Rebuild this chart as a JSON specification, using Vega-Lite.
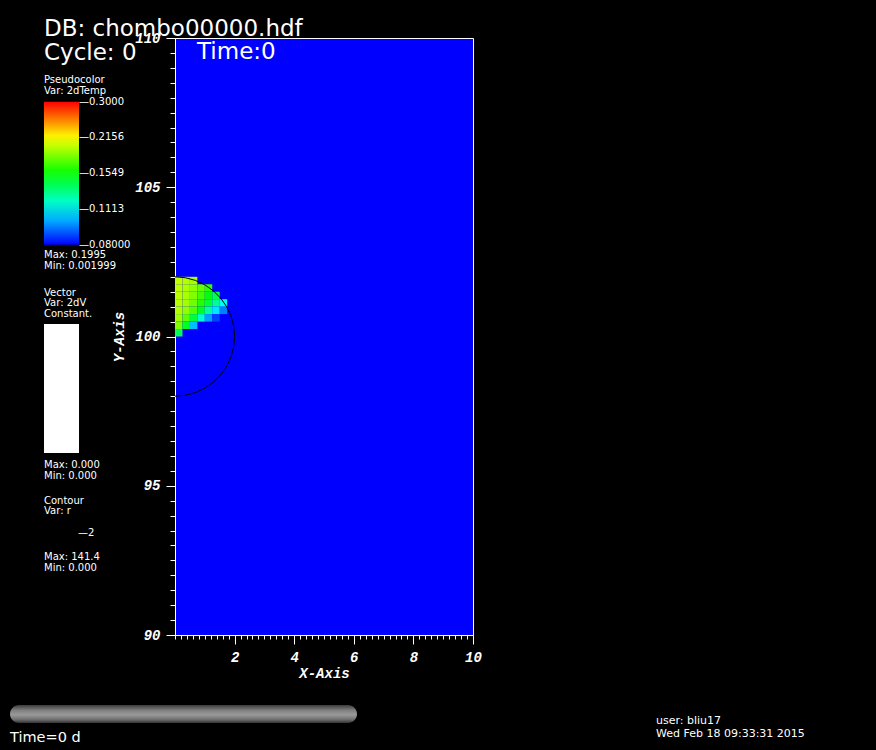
{
  "$schema": "https://vega.github.io/schema/vega-lite/v6.json",
  "autosize": {"type": "none"},
  "width": 298,
  "height": 597,
  "padding": {"left": 175, "top": 38, "right": 403, "bottom": 115},
  "background": "black",
  "config": {
    "view": {"fill": "#0000ff", "stroke": "white", "strokeWidth": 1}
  },
  "layer": [
    {
      "data": {"values": [
        {"xmin": 0, "xmax": 0.25, "ymin": 101.75, "ymax": 102, "temp": 0.1985},
        {"xmin": 0.25, "xmax": 0.5, "ymin": 101.75, "ymax": 102, "temp": 0.1950},
        {"xmin": 0.5, "xmax": 0.75, "ymin": 101.75, "ymax": 102, "temp": 0.1915},
        {"xmin": 0, "xmax": 0.25, "ymin": 101.5, "ymax": 101.75, "temp": 0.1980},
        {"xmin": 0.25, "xmax": 0.5, "ymin": 101.5, "ymax": 101.75, "temp": 0.1940},
        {"xmin": 0.5, "xmax": 0.75, "ymin": 101.5, "ymax": 101.75, "temp": 0.1867},
        {"xmin": 0.75, "xmax": 1, "ymin": 101.5, "ymax": 101.75, "temp": 0.1760},
        {"xmin": 1, "xmax": 1.25, "ymin": 101.5, "ymax": 101.75, "temp": 0.1640},
        {"xmin": 0, "xmax": 0.25, "ymin": 101.25, "ymax": 101.5, "temp": 0.1970},
        {"xmin": 0.25, "xmax": 0.5, "ymin": 101.25, "ymax": 101.5, "temp": 0.1925},
        {"xmin": 0.5, "xmax": 0.75, "ymin": 101.25, "ymax": 101.5, "temp": 0.1830},
        {"xmin": 0.75, "xmax": 1, "ymin": 101.25, "ymax": 101.5, "temp": 0.1690},
        {"xmin": 1, "xmax": 1.25, "ymin": 101.25, "ymax": 101.5, "temp": 0.1520},
        {"xmin": 1.25, "xmax": 1.5, "ymin": 101.25, "ymax": 101.5, "temp": 0.1400},
        {"xmin": 0, "xmax": 0.25, "ymin": 101, "ymax": 101.25, "temp": 0.1960},
        {"xmin": 0.25, "xmax": 0.5, "ymin": 101, "ymax": 101.25, "temp": 0.1910},
        {"xmin": 0.5, "xmax": 0.75, "ymin": 101, "ymax": 101.25, "temp": 0.1790},
        {"xmin": 0.75, "xmax": 1, "ymin": 101, "ymax": 101.25, "temp": 0.1620},
        {"xmin": 1, "xmax": 1.25, "ymin": 101, "ymax": 101.25, "temp": 0.1460},
        {"xmin": 1.25, "xmax": 1.5, "ymin": 101, "ymax": 101.25, "temp": 0.1280},
        {"xmin": 1.5, "xmax": 1.75, "ymin": 101, "ymax": 101.25, "temp": 0.1130},
        {"xmin": 0, "xmax": 0.25, "ymin": 100.75, "ymax": 101, "temp": 0.1945},
        {"xmin": 0.25, "xmax": 0.5, "ymin": 100.75, "ymax": 101, "temp": 0.1867},
        {"xmin": 0.5, "xmax": 0.75, "ymin": 100.75, "ymax": 101, "temp": 0.1718},
        {"xmin": 0.75, "xmax": 1, "ymin": 100.75, "ymax": 101, "temp": 0.1500},
        {"xmin": 1, "xmax": 1.25, "ymin": 100.75, "ymax": 101, "temp": 0.1258},
        {"xmin": 1.25, "xmax": 1.5, "ymin": 100.75, "ymax": 101, "temp": 0.1081},
        {"xmin": 1.5, "xmax": 1.75, "ymin": 100.75, "ymax": 101, "temp": 0.0944},
        {"xmin": 0, "xmax": 0.25, "ymin": 100.5, "ymax": 100.75, "temp": 0.1907},
        {"xmin": 0.25, "xmax": 0.5, "ymin": 100.5, "ymax": 100.75, "temp": 0.1754},
        {"xmin": 0.5, "xmax": 0.75, "ymin": 100.5, "ymax": 100.75, "temp": 0.1440},
        {"xmin": 0.75, "xmax": 1, "ymin": 100.5, "ymax": 100.75, "temp": 0.1184},
        {"xmin": 1, "xmax": 1.25, "ymin": 100.5, "ymax": 100.75, "temp": 0.0984},
        {"xmin": 1.25, "xmax": 1.5, "ymin": 100.5, "ymax": 100.75, "temp": 0.0869},
        {"xmin": 0, "xmax": 0.25, "ymin": 100.25, "ymax": 100.5, "temp": 0.1828},
        {"xmin": 0.25, "xmax": 0.5, "ymin": 100.25, "ymax": 100.5, "temp": 0.1480},
        {"xmin": 0.5, "xmax": 0.75, "ymin": 100.25, "ymax": 100.5, "temp": 0.1025},
        {"xmin": 0, "xmax": 0.25, "ymin": 100, "ymax": 100.25, "temp": 0.1380}
      ]},
      "mark": {"type": "rect", "strokeWidth": 0},
      "encoding": {
        "x": {
          "field": "xmin", "type": "quantitative",
          "scale": {"domain": [0, 10], "nice": false, "zero": false},
          "axis": {
            "values": [0,0.2,0.4,0.6,0.8,1,1.2,1.4,1.6,1.8,2,2.2,2.4,2.6,2.8,3,3.2,3.4,3.6,3.8,4,4.2,4.4,4.6,4.8,5,5.2,5.4,5.6,5.8,6,6.2,6.4,6.6,6.8,7,7.2,7.4,7.6,7.8,8,8.2,8.4,8.6,8.8,9,9.2,9.4,9.6,9.8,10],
            "tickCount": 200,
            "tickSize": {"condition": {"test": "datum.value % 2 === 0 && datum.value > 0", "value": 9}, "value": 4},
            "labelExpr": "datum.value % 2 === 0 && datum.value > 0 ? '' + datum.value : ''",
            "labelFont": "Liberation Mono", "labelFontWeight": "bold", "labelFontStyle": "italic",
            "labelFontSize": 14, "labelColor": "white", "labelFlush": false, "labelOverlap": false,
            "labelPadding": 6,
            "tickColor": "white", "domainColor": "white", "grid": false,
            "title": "X-Axis", "titleFont": "Liberation Mono", "titleFontStyle": "italic",
            "titleFontWeight": "bold", "titleFontSize": 14, "titleColor": "white", "titlePadding": 2
          }
        },
        "x2": {"field": "xmax"},
        "y": {
          "field": "ymin", "type": "quantitative",
          "scale": {"domain": [90, 110], "nice": false, "zero": false},
          "axis": {
            "values": [90,90.5,91,91.5,92,92.5,93,93.5,94,94.5,95,95.5,96,96.5,97,97.5,98,98.5,99,99.5,100,100.5,101,101.5,102,102.5,103,103.5,104,104.5,105,105.5,106,106.5,107,107.5,108,108.5,109,109.5,110],
            "tickCount": 200,
            "tickSize": {"condition": {"test": "datum.value % 5 === 0", "value": 9}, "value": 5},
            "labelExpr": "datum.value % 5 === 0 ? '' + datum.value : ''",
            "labelFont": "Liberation Mono", "labelFontWeight": "bold", "labelFontStyle": "italic",
            "labelFontSize": 14, "labelColor": "white", "labelFlush": false, "labelOverlap": false,
            "labelPadding": 6,
            "tickColor": "white", "domainColor": "white", "grid": false,
            "title": "Y-Axis", "titleFont": "Liberation Mono", "titleFontStyle": "italic",
            "titleFontWeight": "bold", "titleFontSize": 14, "titleColor": "white", "titlePadding": 8
          }
        },
        "y2": {"field": "ymax"},
        "color": {
          "field": "temp", "type": "quantitative",
          "scale": {
            "type": "log",
            "domain": [0.08, 0.1113, 0.1549, 0.2156, 0.3],
            "range": ["#0000ff", "#00ffff", "#00ff00", "#ffff00", "#ff0000"],
            "clamp": true, "interpolate": "rgb"
          },
          "legend": {
            "orient": "none", "legendX": -131, "legendY": 63.7,
            "title": null, "direction": "vertical",
            "gradientLength": 143, "gradientThickness": 35, "gradientStrokeWidth": 0,
            "values": [0.08, 0.1113, 0.1549, 0.2156, 0.3],
            "labelExpr": "'—' + (datum.value < 0.09 ? '0.08000' : format(datum.value, '.4f'))",
            "labelFont": "DejaVu Sans", "labelFontSize": 10, "labelColor": "white",
            "labelBaseline": "middle", "labelOffset": 0, "labelOverlap": false, "padding": 0,
            "encode": {"labels": {"update": {"baseline": {"value": "middle"}}}}
          }
        }
      }
    },
    {
      "data": {"values": [
        {"x": 0, "y": 98}, {"x": 0.3473, "y": 98.0304}, {"x": 0.684, "y": 98.1206},
        {"x": 1.0, "y": 98.2679}, {"x": 1.2856, "y": 98.4679}, {"x": 1.5321, "y": 98.7144},
        {"x": 1.7321, "y": 99.0}, {"x": 1.8794, "y": 99.316}, {"x": 1.9696, "y": 99.6527},
        {"x": 2, "y": 100}, {"x": 1.9696, "y": 100.3473}, {"x": 1.8794, "y": 100.684},
        {"x": 1.7321, "y": 101.0}, {"x": 1.5321, "y": 101.2856}, {"x": 1.2856, "y": 101.5321},
        {"x": 1.0, "y": 101.7321}, {"x": 0.684, "y": 101.8794}, {"x": 0.3473, "y": 101.9696},
        {"x": 0, "y": 102}
      ]},
      "mark": {"type": "line", "color": "black", "strokeWidth": 1},
      "encoding": {
        "x": {"field": "x", "type": "quantitative"},
        "y": {"field": "y", "type": "quantitative"},
        "order": {"value": null}
      }
    },
    {
      "data": {"values": [{}]},
      "mark": {"type": "text", "align": "left", "baseline": "alphabetic", "font": "DejaVu Sans", "fontSize": 23, "lineHeight": 23.5, "color": "white"},
      "encoding": {
        "x": {"datum": -4.396, "type": "quantitative"},
        "y": {"datum": 110.067, "type": "quantitative"},
        "text": {"value": ["DB: chombo00000.hdf", "Cycle: 0"]}
      }
    },
    {
      "data": {"values": [{}]},
      "mark": {"type": "text", "align": "left", "baseline": "alphabetic", "font": "DejaVu Sans", "fontSize": 23, "color": "white"},
      "encoding": {
        "x": {"datum": 0.738, "type": "quantitative"},
        "y": {"datum": 109.313, "type": "quantitative"},
        "text": {"value": "Time:0"}
      }
    },
    {
      "data": {"values": [{}]},
      "mark": {"type": "text", "align": "left", "baseline": "alphabetic", "font": "DejaVu Sans", "fontSize": 10, "lineHeight": 10.5, "color": "white"},
      "encoding": {
        "x": {"datum": -4.396, "type": "quantitative"},
        "y": {"datum": 108.492, "type": "quantitative"},
        "text": {"value": ["Pseudocolor", "Var: 2dTemp"]}
      }
    },
    {
      "data": {"values": [{}]},
      "mark": {"type": "text", "align": "left", "baseline": "alphabetic", "font": "DejaVu Sans", "fontSize": 10, "lineHeight": 11, "color": "white"},
      "encoding": {
        "x": {"datum": -4.396, "type": "quantitative"},
        "y": {"datum": 102.62, "type": "quantitative"},
        "text": {"value": ["Max:  0.1995", "Min:  0.001999"]}
      }
    },
    {
      "data": {"values": [{}]},
      "mark": {"type": "text", "align": "left", "baseline": "alphabetic", "font": "DejaVu Sans", "fontSize": 10, "lineHeight": 10.5, "color": "white"},
      "encoding": {
        "x": {"datum": -4.396, "type": "quantitative"},
        "y": {"datum": 101.357, "type": "quantitative"},
        "text": {"value": ["Vector", "Var: 2dV", "Constant."]}
      }
    },
    {
      "data": {"values": [{}]},
      "mark": {"type": "rect", "color": "white"},
      "encoding": {
        "x": {"datum": -4.396, "type": "quantitative"},
        "x2": {"datum": -3.221},
        "y": {"datum": 100.419, "type": "quantitative"},
        "y2": {"datum": 96.097}
      }
    },
    {
      "data": {"values": [{}]},
      "mark": {"type": "text", "align": "left", "baseline": "alphabetic", "font": "DejaVu Sans", "fontSize": 10, "lineHeight": 11, "color": "white"},
      "encoding": {
        "x": {"datum": -4.396, "type": "quantitative"},
        "y": {"datum": 95.578, "type": "quantitative"},
        "text": {"value": ["Max:  0.000", "Min:  0.000"]}
      }
    },
    {
      "data": {"values": [{}]},
      "mark": {"type": "text", "align": "left", "baseline": "alphabetic", "font": "DejaVu Sans", "fontSize": 10, "lineHeight": 10.5, "color": "white"},
      "encoding": {
        "x": {"datum": -4.396, "type": "quantitative"},
        "y": {"datum": 94.389, "type": "quantitative"},
        "text": {"value": ["Contour", "Var: r"]}
      }
    },
    {
      "data": {"values": [{}]},
      "mark": {"type": "text", "align": "left", "baseline": "alphabetic", "font": "DejaVu Sans", "fontSize": 10, "color": "white"},
      "encoding": {
        "x": {"datum": -3.255, "type": "quantitative"},
        "y": {"datum": 93.3, "type": "quantitative"},
        "text": {"value": "—2"}
      }
    },
    {
      "data": {"values": [{}]},
      "mark": {"type": "text", "align": "left", "baseline": "alphabetic", "font": "DejaVu Sans", "fontSize": 10, "lineHeight": 11, "color": "white"},
      "encoding": {
        "x": {"datum": -4.396, "type": "quantitative"},
        "y": {"datum": 92.513, "type": "quantitative"},
        "text": {"value": ["Max:  141.4", "Min:  0.000"]}
      }
    },
    {
      "data": {"values": [{}]},
      "mark": {
        "type": "rect", "cornerRadius": 9,
        "color": {
          "gradient": "linear", "x1": 0, "y1": 0, "x2": 0, "y2": 1,
          "stops": [
            {"offset": 0, "color": "#3c3c3c"},
            {"offset": 0.3, "color": "#808080"},
            {"offset": 0.55, "color": "#9a9a9a"},
            {"offset": 0.8, "color": "#707070"},
            {"offset": 1, "color": "#333333"}
          ]
        }
      },
      "encoding": {
        "x": {"datum": -5.537, "type": "quantitative"},
        "x2": {"datum": 6.107},
        "y": {"datum": 87.655, "type": "quantitative"},
        "y2": {"datum": 87.052}
      }
    },
    {
      "data": {"values": [{}]},
      "mark": {"type": "text", "align": "left", "baseline": "alphabetic", "font": "DejaVu Sans", "fontSize": 14.5, "color": "white"},
      "encoding": {
        "x": {"datum": -5.537, "type": "quantitative"},
        "y": {"datum": 86.415, "type": "quantitative"},
        "text": {"value": "Time=0 d"}
      }
    },
    {
      "data": {"values": [{}]},
      "mark": {"type": "text", "align": "left", "baseline": "alphabetic", "font": "DejaVu Sans", "fontSize": 11, "lineHeight": 13, "color": "white"},
      "encoding": {
        "x": {"datum": 16.141, "type": "quantitative"},
        "y": {"datum": 87.018, "type": "quantitative"},
        "text": {"value": ["user: bliu17", "Wed Feb 18 09:33:31 2015"]}
      }
    }
  ]
}
